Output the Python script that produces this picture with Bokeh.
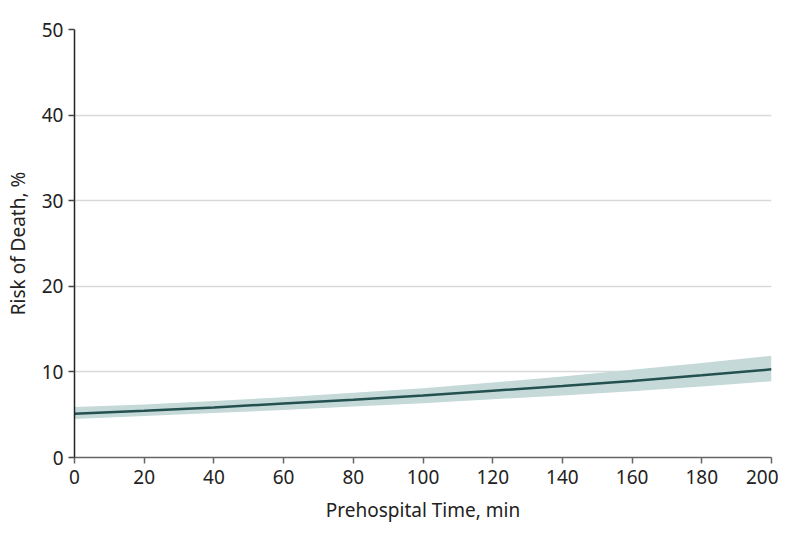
from bokeh.plotting import figure
from bokeh.models import ColumnDataSource, Range1d, FixedTicker
from bokeh.embed import file_html
from bokeh.resources import INLINE

time_min = [0, 20, 40, 60, 80, 100, 120, 140, 160, 180, 200]
risk = [5.1, 5.45, 5.85, 6.3, 6.75, 7.25, 7.8, 8.35, 8.95, 9.6, 10.3]
risk_low = [4.5, 4.85, 5.2, 5.55, 5.95, 6.35, 6.8, 7.25, 7.75, 8.3, 8.9]
risk_high = [5.9, 6.2, 6.6, 7.05, 7.55, 8.1, 8.75, 9.45, 10.25, 11.05, 11.9]
x_ticks = [0, 20, 40, 60, 80, 100, 120, 140, 160, 180, 200]
y_ticks = [0, 10, 20, 30, 40, 50]

src = ColumnDataSource(dict(x=time_min, y=risk, lo=risk_low, hi=risk_high))

p = figure(width=778, height=526, output_backend="svg", toolbar_location=None,
           x_range=Range1d(0, 200), y_range=Range1d(0, 50),
           min_border_left=74, min_border_right=7, min_border_top=29, min_border_bottom=69)
p.outline_line_color = None
p.background_fill_color = "white"
p.border_fill_color = "white"

p.varea(x="x", y1="lo", y2="hi", source=src, fill_color="#c5d9d9")
p.line(x="x", y="y", source=src, line_color="#24504f", line_width=2.5)

font = "Noto Sans"
p.xaxis.ticker = FixedTicker(ticks=x_ticks)
p.yaxis.ticker = FixedTicker(ticks=y_ticks)
p.xgrid.visible = False
p.ygrid.grid_line_color = "#d9d9d9"
p.ygrid.grid_line_width = 1.5
p.ygrid.level = "underlay"

for ax in (p.xaxis[0], p.yaxis[0]):
    ax.major_label_text_font = font
    ax.major_label_text_font_size = "19px"
    ax.major_label_text_color = "#222222"
    ax.axis_label_text_font = font
    ax.axis_label_text_font_size = "19px"
    ax.axis_label_text_font_style = "normal"
    ax.axis_label_text_color = "#222222"
    ax.minor_tick_line_color = None
    ax.major_tick_in = 0
    ax.major_tick_out = 6
    ax.axis_line_width = 1.5
    ax.major_tick_line_width = 1.5

p.xaxis.axis_label = "Prehospital Time, min"
p.yaxis.axis_label = "Risk of Death, %"
p.xaxis.axis_line_color = "#666666"
p.xaxis.major_tick_line_color = "#666666"
p.yaxis.axis_line_color = "#222222"
p.yaxis.major_tick_line_color = "#444444"
p.xaxis.major_label_standoff = 6
p.yaxis.major_label_standoff = 5
p.xaxis.axis_label_standoff = 10
p.yaxis.axis_label_standoff = 8

open("out.html", "w").write(file_html(p, INLINE))
